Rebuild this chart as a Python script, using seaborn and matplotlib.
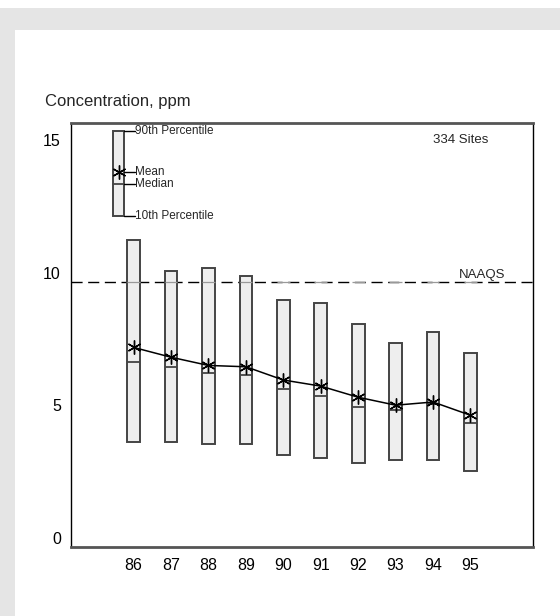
import numpy as np
import pandas as pd
import matplotlib
matplotlib.use("Agg")
import matplotlib.pyplot as plt
from matplotlib.patches import Rectangle
import seaborn as sns

# ---- data ----
years = [86, 87, 88, 89, 90, 91, 92, 93, 94, 95]
p90 = [11.23, 10.08, 10.16, 9.87, 8.97, 8.87, 8.06, 7.36, 7.75, 6.96]
p10 = [3.62, 3.62, 3.54, 3.54, 3.12, 3.02, 2.83, 2.93, 2.93, 2.53]
medians = [6.64, 6.45, 6.23, 6.15, 5.60, 5.35, 4.94, 4.82, 5.05, 4.32]
means = [7.18, 6.81, 6.50, 6.45, 5.95, 5.72, 5.30, 5.00, 5.12, 4.62]
naaqs = 9.66
yticks = [0, 5, 10, 15]
sites_label = "334 Sites"
# legend sample values
leg_p90, leg_mean, leg_median, leg_p10 = 15.35, 13.81, 13.34, 12.14

df = pd.DataFrame({"year": years, "p90": p90, "p10": p10,
                   "median": medians, "mean": means})
df["span"] = df["p90"] - df["p10"]

sns.set_theme(style="white")
plt.rcParams["font.family"] = ["Liberation Sans", "DejaVu Sans"]

fig = plt.figure(figsize=(5.6, 6.16), dpi=100)
fig.patch.set_facecolor("white")
W, H = 560, 616
fig.patches.append(Rectangle((0, 0), 1, 1 - 8 / H, transform=fig.transFigure,
                             facecolor="#e5e5e5", edgecolor="none", zorder=-10))
fig.patches.append(Rectangle((15 / W, 0), 1 - 15 / W, 1 - 30 / H, transform=fig.transFigure,
                             facecolor="white", edgecolor="none", zorder=-9))

ax = fig.add_axes([70.7 / W, 1 - 546.7 / H, (533 - 70.7) / W, (546.7 - 122.7) / H])
ax.set_facecolor("white")

box_w = 0.34
edge = "#444444"
fill = "#eeeeee"

# NAAQS dashed line
ax.axhline(naaqs, color="black", lw=1.0, dashes=(8, 4), zorder=1)

# floating boxes (10th-90th percentile)
ax.bar(df["year"], df["span"], bottom=df["p10"], width=box_w,
       color=fill, edgecolor=edge, linewidth=1.4, zorder=2)
# NAAQS trace through boxes
ax.hlines([naaqs] * len(years), df["year"] - box_w / 2, df["year"] + box_w / 2,
          color="#999999", lw=0.9, zorder=2.5)
# medians
ax.hlines(df["median"], df["year"] - box_w / 2, df["year"] + box_w / 2,
          color=edge, lw=1.3, zorder=3)
# means
sns.lineplot(data=df, x="year", y="mean", ax=ax, color="black", lw=1.1,
             marker=(6, 2, 0), markersize=10, markeredgecolor="black",
             markeredgewidth=1.0, zorder=4)

# legend key
lx = 85.6
lw_ = 0.28
ax.bar([lx], [leg_p90 - leg_p10], bottom=[leg_p10], width=lw_, color=fill,
       edgecolor=edge, linewidth=1.4, zorder=2, clip_on=False)
ax.plot([lx - lw_ / 2, lx + lw_ / 2], [leg_median, leg_median], color=edge, lw=1.3, zorder=3)
ax.plot([lx], [leg_mean], marker=(6, 2, 0), markersize=10, color="black",
        markeredgewidth=1.0, zorder=4)
x_text = lx + lw_ / 2 + 0.3
for val, lab in [(leg_p90, "90th Percentile"), (leg_mean, "Mean"),
                 (leg_median, "Median"), (leg_p10, "10th Percentile")]:
    ax.plot([lx + lw_ / 2, x_text], [val, val], color="black", lw=1.0, zorder=3)
    ax.text(x_text, val, lab, fontsize=8.5, ha="left", va="center", zorder=5)

ax.text(94.75, 15.0, sites_label, fontsize=9.5, ha="center", va="center")
ax.text(95.31, naaqs + 0.02, "NAAQS", fontsize=9.5, ha="center", va="bottom")

ax.set_xlim(84.32, 96.67)
ax.set_ylim(-0.34, 15.66)
ax.set_xticks(years)
ax.set_xticklabels([str(y) for y in years])
ax.set_yticks(yticks)
ax.set_yticklabels([str(t) for t in yticks])
ax.tick_params(axis="both", length=0, labelsize=11.5, colors="black")
ax.tick_params(axis="x", pad=8)
ax.tick_params(axis="y", pad=7)
ax.set_xlabel("")
ax.set_ylabel("")

for side in ["left", "right"]:
    ax.spines[side].set_color("black")
    ax.spines[side].set_linewidth(1.0)
for side in ["top", "bottom"]:
    ax.spines[side].set_color("#555555")
    ax.spines[side].set_linewidth(2.0)

fig.text(45 / W, 1 - 101.7 / H, "Concentration, ppm", fontsize=12,
         ha="left", va="center")

fig.savefig("out.png", dpi=100)
